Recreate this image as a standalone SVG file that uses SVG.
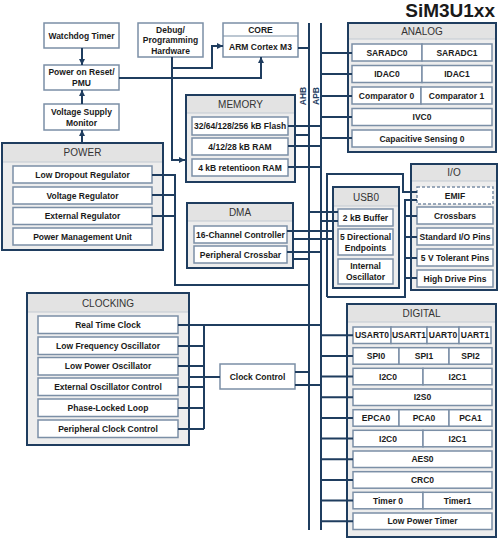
<svg xmlns="http://www.w3.org/2000/svg" width="500" height="540" viewBox="0 0 500 540">
<defs>
<style>
.ln{fill:none;stroke:#1f3d5f;stroke-width:2}
.cn{fill:#ededed;stroke:#1f3d5f;stroke-width:2}
.hd{fill:#e3e3e3}
.dv{stroke:#c3cad2;stroke-width:1}
.bx{fill:#fff;stroke:#7b8fa6;stroke-width:1.5}
.em{fill:#fff;stroke:#7b8fa6;stroke-width:1.5;stroke-dasharray:3 2}
.t{font-family:"Liberation Sans",Arial,sans-serif;font-size:8.5px;font-weight:bold;fill:#1a1a1a;text-anchor:middle}
.h{font-family:"Liberation Sans",Arial,sans-serif;font-size:10px;fill:#333;text-anchor:middle}
.b{font-family:"Liberation Sans",Arial,sans-serif;font-size:8.5px;font-weight:bold;fill:#1f3d5f;text-anchor:middle}
</style>
<marker id="ar" markerWidth="6" markerHeight="6" refX="6" refY="3" orient="auto" markerUnits="userSpaceOnUse">
<path d="M0,0 L6,3 L0,6 z" fill="#1f3d5f"/>
</marker>
</defs>
<rect width="500" height="540" fill="#fff"/>
<text x="495" y="17" style="font-family:'Liberation Sans',Arial,sans-serif;font-size:19px;font-weight:bold;fill:#1a1a1a;text-anchor:end">SiM3U1xx</text>

<g id="nodes">
<g id="wdt"><rect class="bx" x="44" y="23" width="75" height="25"/><text class="t" x="81.5" y="38.5">Watchdog Timer</text></g>
<g id="por"><rect class="bx" x="44" y="65" width="75" height="25"/><text class="t" x="81.5" y="75">Power on Reset/</text><text class="t" x="81.5" y="86">PMU</text></g>
<g id="vsm"><rect class="bx" x="44" y="104" width="75" height="26"/><text class="t" x="81.5" y="114.5">Voltage Supply</text><text class="t" x="81.5" y="125.5">Monitor</text></g>
<g id="debug"><rect class="bx" x="138" y="23" width="65" height="34"/><text class="t" x="170.5" y="32.5">Debug/</text><text class="t" x="170.5" y="43">Programming</text><text class="t" x="170.5" y="53.5">Hardware</text></g>
<g id="core"><rect class="bx" x="223" y="23" width="75" height="34"/><line x1="223" y1="36" x2="298" y2="36" stroke="#7b8fa6" stroke-width="1.2"/><text class="t" x="260.5" y="33">CORE</text><text class="t" x="260.5" y="49.5">ARM Cortex M3</text></g>

<g id="analog">
<rect class="cn" x="348" y="23" width="148" height="129"/><rect class="hd" x="349" y="24" width="146" height="15"/><line class="dv" x1="349" y1="39" x2="495" y2="39"/>
<text class="h" x="422" y="34.5">ANALOG</text>
<rect class="bx" x="352" y="44" width="70" height="17"/><rect class="bx" x="422" y="44" width="70" height="17"/>
<text class="t" x="387" y="55.5">SARADC0</text><text class="t" x="457" y="55.5">SARADC1</text>
<rect class="bx" x="352" y="65.5" width="70" height="17"/><rect class="bx" x="422" y="65.5" width="70" height="17"/>
<text class="t" x="387" y="77">IDAC0</text><text class="t" x="457" y="77">IDAC1</text>
<rect class="bx" x="352" y="87" width="69" height="17"/><rect class="bx" x="421" y="87" width="71" height="17"/>
<text class="t" x="386.5" y="98.5">Comparator 0</text><text class="t" x="456.5" y="98.5">Comparator 1</text>
<rect class="bx" x="352" y="108.5" width="140" height="17"/><text class="t" x="422" y="120">IVC0</text>
<rect class="bx" x="352" y="130" width="140" height="17"/><text class="t" x="422" y="141.5">Capacitive Sensing 0</text>
</g>

<g id="memory">
<rect class="cn" x="186" y="95" width="109" height="87"/><rect class="hd" x="187" y="96" width="107" height="17"/><line class="dv" x1="187" y1="113" x2="294" y2="113"/>
<text class="h" x="240.5" y="107.5">MEMORY</text>
<rect class="bx" x="192" y="117" width="96" height="18"/><text class="t" x="240" y="129">32/64/128/256 kB Flash</text>
<rect class="bx" x="192" y="138" width="96" height="17"/><text class="t" x="240" y="149.5">4/12/28 kB RAM</text>
<rect class="bx" x="192" y="159" width="96" height="17"/><text class="t" x="240" y="170.5">4 kB retentioon RAM</text>
</g>

<g id="power">
<rect class="cn" x="2" y="143" width="161" height="107"/><rect class="hd" x="3" y="144" width="159" height="18"/><line class="dv" x1="3" y1="162" x2="162" y2="162"/>
<text class="h" x="82.5" y="156">POWER</text>
<rect class="bx" x="13" y="166" width="139" height="17"/><text class="t" x="82.5" y="177.5">Low Dropout Regulator</text>
<rect class="bx" x="13" y="187" width="139" height="17"/><text class="t" x="82.5" y="198.5">Voltage Regulator</text>
<rect class="bx" x="13" y="207.5" width="139" height="17"/><text class="t" x="82.5" y="219">External Regulator</text>
<rect class="bx" x="13" y="228" width="139" height="17"/><text class="t" x="82.5" y="239.5">Power Management Unit</text>
</g>

<g id="dma">
<rect class="cn" x="187" y="203" width="106" height="65"/><rect class="hd" x="188" y="204" width="104" height="17"/><line class="dv" x1="188" y1="221" x2="292" y2="221"/>
<text class="h" x="240" y="215.5">DMA</text>
<rect class="bx" x="194" y="226" width="93" height="17"/><text class="t" x="240.5" y="237.5">16-Channel Controller</text>
<rect class="bx" x="194" y="246" width="93" height="17"/><text class="t" x="240.5" y="257.5">Peripheral Crossbar</text>
</g>

<g id="usb0">
<rect class="cn" x="333" y="187" width="66" height="101"/><rect class="hd" x="334" y="188" width="64" height="18"/><line class="dv" x1="334" y1="206" x2="398" y2="206"/>
<text class="h" x="366" y="200.5">USB0</text>
<rect class="bx" x="338" y="209" width="55" height="17"/><text class="t" x="365.5" y="220.5">2 kB Buffer</text>
<rect class="bx" x="338" y="229" width="55" height="26"/><text class="t" x="365.5" y="239.5">5 Directional</text><text class="t" x="365.5" y="250.5">Endpoints</text>
<rect class="bx" x="338" y="259" width="55" height="25"/><text class="t" x="365.5" y="268.5">Internal</text><text class="t" x="365.5" y="279.5">Oscillator</text>
</g>

<g id="io">
<rect class="cn" x="411" y="164" width="86" height="126"/><rect class="hd" x="412" y="165" width="84" height="16"/><line class="dv" x1="412" y1="181" x2="496" y2="181"/>
<text class="h" x="454" y="176">I/O</text>
<rect class="em" x="417" y="187" width="76" height="17"/><text class="t" x="455" y="198.5">EMIF</text>
<rect class="bx" x="417" y="207" width="76" height="17"/><text class="t" x="455" y="218.5">Crossbars</text>
<rect class="bx" x="417" y="228" width="76" height="17"/><text class="t" x="455" y="239.5">Standard I/O Pins</text>
<rect class="bx" x="417" y="249" width="76" height="17"/><text class="t" x="455" y="260.5">5 V Tolerant Pins</text>
<rect class="bx" x="417" y="270" width="76" height="17"/><text class="t" x="455" y="281.5">High Drive Pins</text>
</g>

<g id="clocking">
<rect class="cn" x="27" y="293" width="162" height="152"/><rect class="hd" x="28" y="294" width="160" height="18"/><line class="dv" x1="28" y1="312" x2="188" y2="312"/>
<text class="h" x="108" y="306.5">CLOCKING</text>
<rect class="bx" x="38" y="316" width="140" height="17.5"/><text class="t" x="108" y="327.8">Real Time Clock</text>
<rect class="bx" x="38" y="337" width="140" height="17.5"/><text class="t" x="108" y="348.8">Low Frequency Oscillator</text>
<rect class="bx" x="38" y="357.5" width="140" height="17.5"/><text class="t" x="108" y="369.3">Low Power Oscillator</text>
<rect class="bx" x="38" y="378" width="140" height="17.5"/><text class="t" x="108" y="389.8">External Oscillator Control</text>
<rect class="bx" x="38" y="399" width="140" height="17.5"/><text class="t" x="108" y="410.8">Phase-Locked Loop</text>
<rect class="bx" x="38" y="420" width="140" height="17.5"/><text class="t" x="108" y="431.8">Peripheral Clock Control</text>
</g>

<g id="clkctl"><rect class="bx" x="220" y="364" width="75" height="25"/><text class="t" x="257.5" y="379.5">Clock Control</text></g>

<g id="digital">
<rect class="cn" x="347" y="304" width="149" height="233"/><rect class="hd" x="348" y="305" width="147" height="17"/><line class="dv" x1="348" y1="322" x2="495" y2="322"/>
<text class="h" x="421.5" y="316.5">DIGITAL</text>
<rect class="bx" x="353" y="327" width="38" height="16.5"/><rect class="bx" x="391" y="327" width="36" height="16.5"/><rect class="bx" x="427" y="327" width="32" height="16.5"/><rect class="bx" x="459" y="327" width="32" height="16.5"/>
<text class="t" x="372" y="338.3">USART0</text><text class="t" x="409" y="338.3">USART1</text><text class="t" x="443" y="338.3">UART0</text><text class="t" x="475" y="338.3">UART1</text>
<rect class="bx" x="353" y="347.7" width="46" height="16.5"/><rect class="bx" x="399" y="347.7" width="50" height="16.5"/><rect class="bx" x="449" y="347.7" width="43" height="16.5"/>
<text class="t" x="376" y="358.9">SPI0</text><text class="t" x="424" y="358.9">SPI1</text><text class="t" x="470.5" y="358.9">SPI2</text>
<rect class="bx" x="353" y="368.3" width="70" height="16.5"/><rect class="bx" x="423" y="368.3" width="69" height="16.5"/>
<text class="t" x="388" y="379.6">I2C0</text><text class="t" x="457.5" y="379.6">I2C1</text>
<rect class="bx" x="353" y="389" width="139" height="16.5"/><text class="t" x="422.5" y="400.3">I2S0</text>
<rect class="bx" x="353" y="409.7" width="46" height="16.5"/><rect class="bx" x="399" y="409.7" width="50" height="16.5"/><rect class="bx" x="449" y="409.7" width="43" height="16.5"/>
<text class="t" x="376" y="420.9">EPCA0</text><text class="t" x="424" y="420.9">PCA0</text><text class="t" x="470.5" y="420.9">PCA1</text>
<rect class="bx" x="353" y="430.3" width="70" height="16.5"/><rect class="bx" x="423" y="430.3" width="69" height="16.5"/>
<text class="t" x="388" y="441.6">I2C0</text><text class="t" x="457.5" y="441.6">I2C1</text>
<rect class="bx" x="353" y="451" width="139" height="16.5"/><text class="t" x="422.5" y="462.3">AES0</text>
<rect class="bx" x="353" y="471.7" width="139" height="16.5"/><text class="t" x="422.5" y="482.9">CRC0</text>
<rect class="bx" x="353" y="492.3" width="70" height="16.5"/><rect class="bx" x="423" y="492.3" width="69" height="16.5"/>
<text class="t" x="388" y="503.6">Timer 0</text><text class="t" x="457.5" y="503.6">Timer1</text>
<rect class="bx" x="353" y="513" width="139" height="16.5"/><text class="t" x="422.5" y="524.3">Low Power Timer</text>
</g>
</g>

<g id="connectors">
<line class="ln" x1="82" y1="48" x2="82" y2="65" marker-end="url(#ar)"/>
<line class="ln" x1="82" y1="104" x2="82" y2="90" marker-end="url(#ar)"/>
<line class="ln" x1="82" y1="142" x2="82" y2="130" marker-end="url(#ar)"/>
<path class="ln" d="M119 78 H261 V57" marker-end="url(#ar)"/>
<path class="ln" d="M172 57 V68 H212 V46 H223" marker-end="url(#ar)"/>
<path class="ln" d="M172 68 V160 H185" marker-end="url(#ar)"/>
<line class="ln" x1="298" y1="48" x2="309" y2="48"/>
<line class="ln" x1="309" y1="23" x2="309" y2="530"/>
<line class="ln" x1="321" y1="23" x2="321" y2="530"/>
<text class="b" transform="translate(306.3,96) rotate(-90)">AHB</text>
<text class="b" transform="translate(319,96) rotate(-90)">APB</text>
<path class="ln" d="M321 53 H352 M321 74 H352 M321 96 H352 M321 117 H352 M321 138 H352"/>
<path class="ln" d="M288 126 H321 M295 135 H309 M288 146 H321 M288 167 H321"/>
<path class="ln" d="M152 175 H175 M152 195 H175 M152 216 H175 M175 174 V285 H309"/>
<path class="ln" d="M287 231 H333 M293 239 H333 M287 252 H321 M293 259 H309"/>
<path class="ln" d="M309 212 H338 M321 221 H338"/>
<path class="ln" d="M327 297 V174 H403 V192 H417"/>
<path class="ln" d="M417 200 H405 V297 H327 M405 216 H417 M405 237 H417 M405 258 H417 M405 278 H417"/>
<path class="ln" d="M178 325 H321 M178 346 H204 M178 366 H204 M178 387 H204 M178 408 H204 M178 429 H204 M204 325 V429 M189 377 H220"/>
<path class="ln" d="M295 372 H309 M295 385 H321"/>
<path class="ln" d="M321 335.3 H353 M321 355.9 H353 M321 376.6 H353 M321 397.3 H353 M321 417.9 H353 M321 438.6 H353 M321 459.3 H353 M321 479.9 H353 M321 500.6 H353 M321 521.3 H353"/>
</g>
</svg>
